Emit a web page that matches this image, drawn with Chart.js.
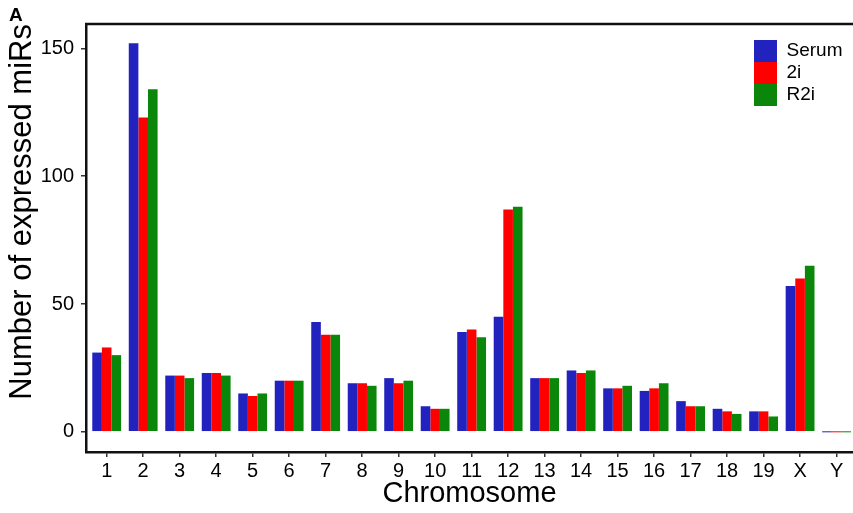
<!DOCTYPE html>
<html>
<head>
<meta charset="utf-8">
<script src="https://cdn.jsdelivr.net/npm/chart.js@4/dist/chart.umd.min.js"></script>
<style>
  html, body { margin: 0; padding: 0; background: #fff; overflow: hidden; }
  #wrap { width: 853px; height: 513px; }
</style>
</head>
<body>
<div id="wrap"><canvas id="c" width="853" height="513"></canvas></div>
<script>
const chromosomes = ['1','2','3','4','5','6','7','8','9','10','11','12','13','14','15','16','17','18','19','X','Y'];
const serum = [31,152,22,23,15,20,43,19,21,10,39,45,21,24,17,16,12,9,8,57,0];
const twoI  = [33,123,22,23,14,20,38,19,19,9,40,87,21,23,17,17,10,8,8,60,0];
const r2i   = [30,134,21,22,15,20,38,18,20,9,37,88,21,24,18,19,10,7,6,65,0];
const yTickValues = [0,50,100,150];

const FONT = "'Liberation Sans', Arial, Helvetica, sans-serif";
Chart.defaults.font.family = FONT;
Chart.defaults.color = '#000';

function pts(arr) { return arr.map((v, i) => ({ x: i + 1, y: v })); }

const topBorder = {
  id: 'topBorder',
  afterDraw(chart) {
    const { ctx, chartArea } = chart;
    ctx.save();
    ctx.strokeStyle = '#111';
    ctx.lineWidth = 2.5;
    ctx.beginPath();
    ctx.moveTo(chartArea.left - 1, chartArea.top);
    ctx.lineTo(chart.width, chartArea.top);
    ctx.stroke();
    ctx.restore();
  }
};

const moveLegend = {
  id: 'moveLegend',
  afterLayout(chart) {
    const lg = chart.legend;
    if (!lg) return;
    const w = lg.width;
    lg.left = 754; lg.top = 40;
    lg.right = lg.left + w; lg.bottom = lg.top + 200; lg.height = 200;
  }
};

new Chart(document.getElementById('c'), {
  type: 'bar',
  data: {
    datasets: [
      { label: 'Serum', data: pts(serum), backgroundColor: '#2222BF', borderWidth: 0 },
      { label: '2i', data: pts(twoI), backgroundColor: '#FF0000', borderWidth: 0 },
      { label: 'R2i', data: pts(r2i), backgroundColor: '#0A870A', borderWidth: 0 }
    ]
  },
  options: {
    responsive: false,
    animation: false,
    devicePixelRatio: 1,
    layout: { padding: { left: 9, right: 0, top: 0, bottom: 0 } },
    datasets: { bar: { categoryPercentage: 0.79, barPercentage: 1.0, minBarLength: 1 } },
    plugins: {
      tooltip: { enabled: false },
      title: {
        display: true, text: 'A', align: 'start', color: '#000',
        font: { size: 19, weight: 'bold', lineHeight: 0.9 },
        padding: { top: 7, bottom: 0 }
      },
      legend: {
        position: 'chartArea',
        align: 'start',
        labels: {
          boxWidth: 23, boxHeight: 22, padding: 0,
          font: { size: 19 }, color: '#000'
        }
      }
    },
    scales: {
      x: {
        type: 'linear',
        bounds: 'data',
        offset: false,
        min: 0.433,
        max: 21.45,
        afterBuildTicks: (s) => { s.ticks = chromosomes.map((_, i) => ({ value: i + 1 })); },
        afterFit: (s) => { s.height = 61; },
        ticks: {
          autoSkip: false, maxRotation: 0, padding: 2,
          font: { size: 20 }, color: '#000',
          callback: (v) => chromosomes[Math.round(v) - 1]
        },
        grid: { display: true, offset: false, drawOnChartArea: false, drawTicks: true, tickLength: 5, color: '#333', lineWidth: 1.5 },
        border: { display: true, color: '#111', width: 2.5 },
        title: { display: true, text: 'Chromosome', font: { size: 29, lineHeight: 1 }, padding: { top: 0, bottom: 5 }, color: '#000' }
      },
      y: {
        bounds: 'data',
        min: -7.9,
        max: 159.5,
        afterBuildTicks: (s) => { s.ticks = yTickValues.map(v => ({ value: v })); },
        afterFit: (s) => { s.width = 77; },
        ticks: { padding: 7, font: { size: 20 }, color: '#000' },
        grid: { display: true, drawOnChartArea: false, drawTicks: true, tickLength: 5, color: '#333', lineWidth: 1.5 },
        border: { display: true, color: '#111', width: 2.5 },
        title: { display: true, text: 'Number of expressed miRs', align: 'end', font: { size: 31, lineHeight: 0.85 }, padding: { top: 0, bottom: 0 }, color: '#000' }
      }
    }
  },
  plugins: [topBorder, moveLegend]
});
</script>
</body>
</html>
